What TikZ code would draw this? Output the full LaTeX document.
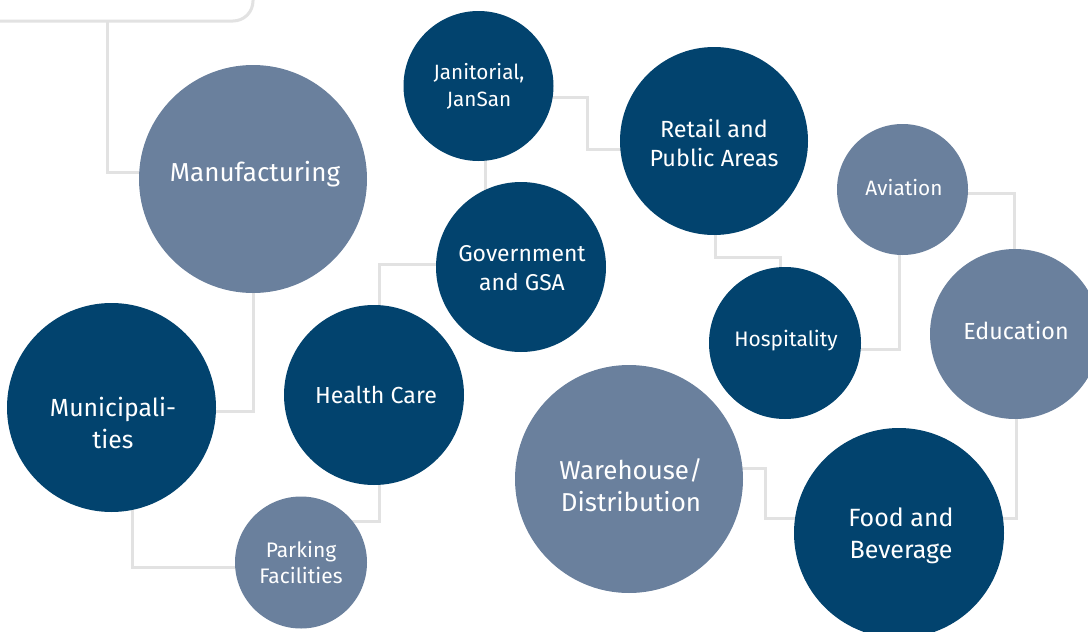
\documentclass[tikz,border=0pt]{standalone}
\usepackage{fontspec}
\setmainfont{Fira Sans}
\definecolor{darkb}{RGB}{2,67,110}
\definecolor{slate}{RGB}{106,128,157}
\definecolor{linec}{RGB}{226,226,226}
\pgfdeclarelayer{background}
\pgfsetlayers{background,main}
\tikzset{
  bub/.style={circle, inner sep=0pt, minimum size=#1},
  dk/.style={fill=darkb},
  lt/.style={fill=slate},
  txt/.style={text=white, align=center, inner sep=0pt},
  conn/.style={draw=linec, line width=3pt},
}
\begin{document}
\begin{tikzpicture}[x=1pt,y=-1pt]
\useasboundingbox (0,0) rectangle (1088,632);
\clip (0,0) rectangle (1088,632);
\node[bub=228pt, lt] (manu) at (253,179) {};
\node[bub=209pt, dk] (muni) at (111.5,407.5) {};
\node[bub=180pt, dk] (health) at (374,395) {};
\node[bub=132pt, lt] (park) at (301,562.5) {};
\node[bub=150pt, dk] (jan) at (478.5,86) {};
\node[bub=170pt, dk] (gov) at (521,267) {};
\node[bub=188pt, dk] (ret) at (714,141) {};
\node[bub=131pt, lt] (avi) at (902.5,189.5) {};
\node[bub=152pt, dk] (hosp) at (785,343) {};
\node[bub=170pt, lt] (edu) at (1015,334) {};
\node[bub=228pt, lt] (ware) at (629,479) {};
\node[bub=210pt, dk] (food) at (899,533) {};
\node[txt, font=\fontsize{26}{32}\selectfont] (manuT) at (255,174) {Manufacturing};
\node[txt, font=\fontsize{24.8}{32}\selectfont] (muniT) at (113,422.5) {Municipali-\\ties};
\node[txt, font=\fontsize{23.2}{30}\selectfont] (healthT) at (376,395) {Health Care};
\node[txt, font=\fontsize{21}{26}\selectfont] (parkT) at (301,562) {Parking\\Facilities};
\node[txt, font=\fontsize{20.7}{27}\selectfont] (janT) at (479,86) {Janitorial,\\JanSan};
\node[txt, font=\fontsize{22.9}{29}\selectfont] (govT) at (522,268) {Government\\and GSA};
\node[txt, font=\fontsize{23.4}{29}\selectfont] (retT) at (714,143) {Retail and\\Public Areas};
\node[txt, font=\fontsize{20.8}{26}\selectfont] (aviT) at (904,188) {Aviation};
\node[txt, font=\fontsize{21}{26}\selectfont] (hospT) at (786,341) {Hospitality};
\node[txt, font=\fontsize{23.3}{30}\selectfont] (eduT) at (1016,331) {Education};
\node[txt, font=\fontsize{25.9}{32}\selectfont] (wareT) at (631,485) {Warehouse/\\Distribution};
\node[txt, font=\fontsize{25}{32}\selectfont] (foodT) at (901,536) {Food and\\Beverage};
\coordinate (boxc) at (107,21);
\begin{pgfonlayer}{background}
\fill[white] (0,0) rectangle (1088,632);
\draw[conn, rounded corners=20pt] (-10,21) -- (253,21) -- (253,-10);
\draw[conn] (boxc) -- (107,172) -- (manu |- 0,172);
\draw[conn] (manu) -- (253,411) -- (muni |- 0,411);
\draw[conn] (muni -| 132,0) -- (132,567) -- (park |- 0,567);
\draw[conn] (health -| 379,0) -- (379,521) -- (park |- 0,521);
\draw[conn] (health -| 379,0) -- (379,264) -- (gov |- 0,264);
\draw[conn] (jan -| 485,0) -- (gov -| 485,0);
\draw[conn] (jan |- 0,97) -- (587,97) -- (587,149) -- (ret |- 0,149);
\draw[conn] (ret -| 715,0) -- (715,257) -- (780,257) -- (hosp -| 780,0);
\draw[conn] (hosp |- 0,349) -- (899,349) -- (avi -| 899,0);
\draw[conn] (avi |- 0,193) -- (1014,193) -- (edu -| 1014,0);
\draw[conn] (edu -| 1016,0) -- (1016,518) -- (food |- 0,518);
\draw[conn] (ware |- 0,468) -- (765,468) -- (765,518) -- (food |- 0,518);
\end{pgfonlayer}
\end{tikzpicture}
\end{document}
